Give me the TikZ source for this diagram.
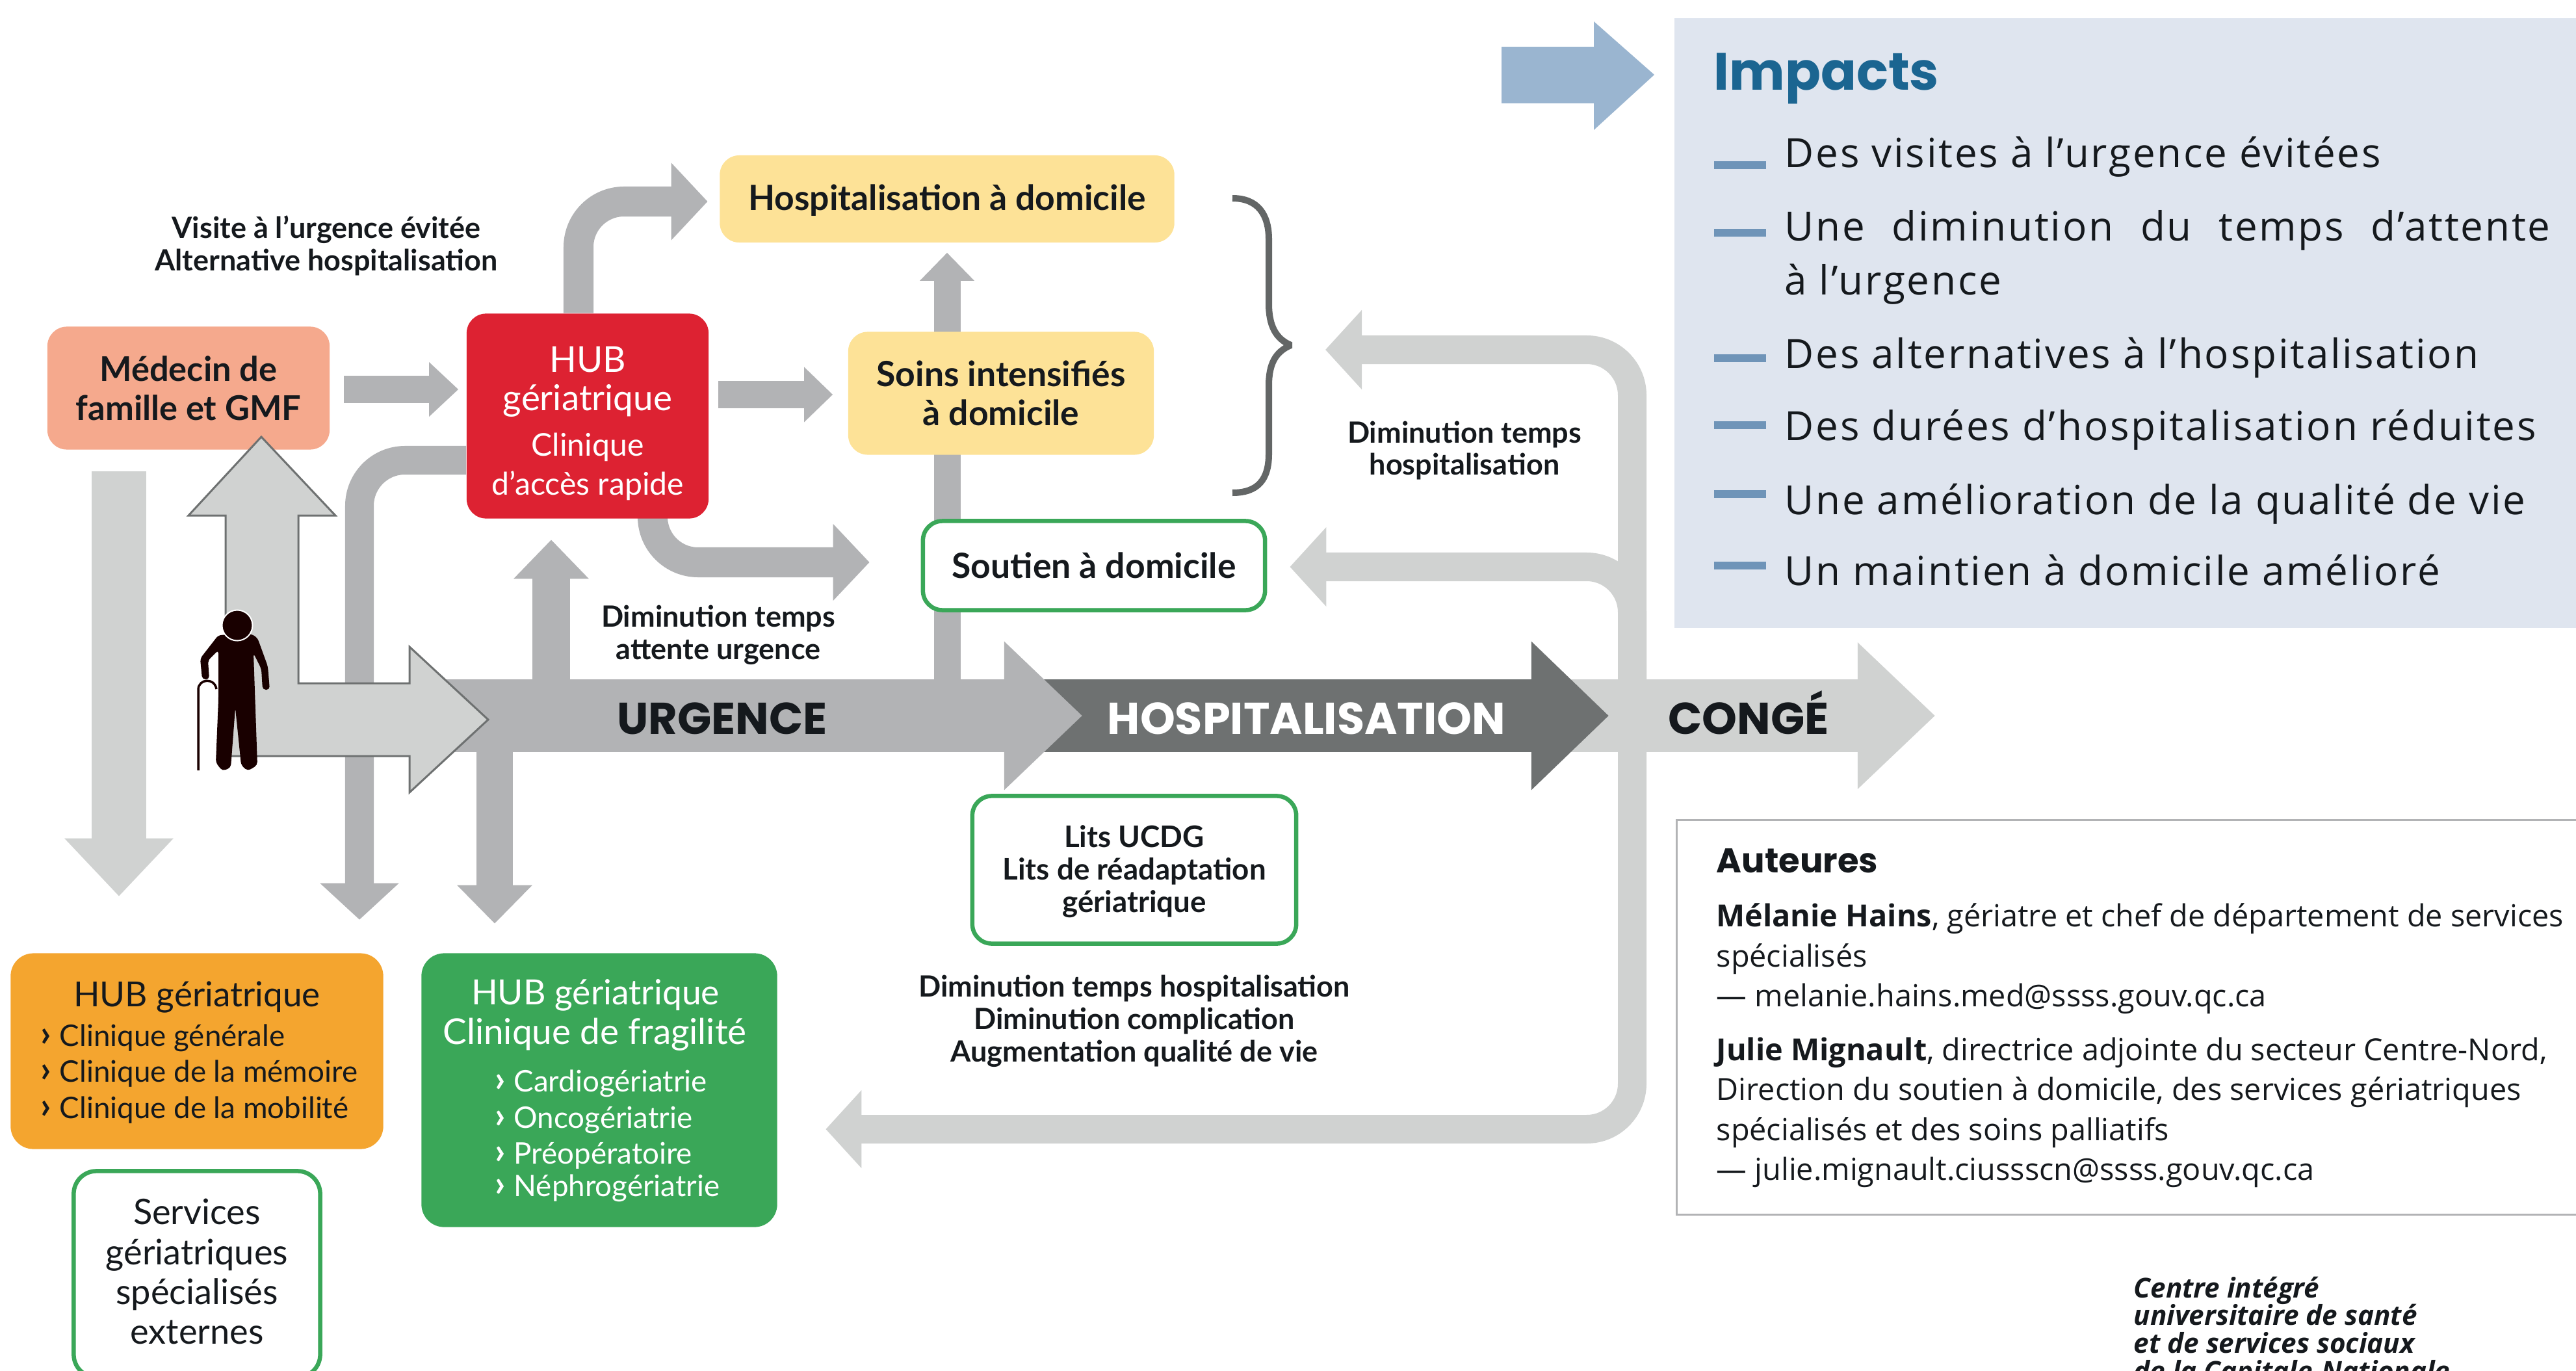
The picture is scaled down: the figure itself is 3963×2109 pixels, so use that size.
\documentclass[tikz,border=0pt]{standalone}
\usepackage{fontspec}
\setmainfont{Lato}
\newfontfamily\headfont{Poppins}
\newfontfamily\bodyfont{Open Sans}
\newfontfamily\trackedfont{Open Sans}[LetterSpace=4.5]
\usepackage{xcolor}
\usetikzlibrary{arrows.meta,backgrounds}

\definecolor{inkblack}{HTML}{15191D}
\definecolor{midgray}{HTML}{B2B3B5}
\definecolor{palegray}{HTML}{D0D2D1}
\definecolor{darkgray}{HTML}{6E7171}
\definecolor{salmon}{HTML}{F5A98D}
\definecolor{hubred}{HTML}{DD2232}
\definecolor{softyellow}{HTML}{FDE297}
\definecolor{hubgreen}{HTML}{3AA758}
\definecolor{huborange}{HTML}{F4A52F}
\definecolor{impactbg}{HTML}{DFE5EF}
\definecolor{impactblue}{HTML}{1B6591}
\definecolor{dashblue}{HTML}{6F94B8}
\definecolor{skyarrow}{HTML}{9AB5D0}

\newcommand{\smallhub}{\fontsize{13.7}{14.2}\selectfont}
\newcommand{\chevron}{\makebox[0.29cm][l]{\textbf{\fontsize{16}{15}\selectfont ›}}}

\tikzset{
    every node/.style={inner sep=0pt,text=inkblack},
    flow/.style n args={4}{draw=#1,line width=#2,-{Triangle[length=#3,width=#4]},rounded corners=0.7cm},
    carebox/.style={rounded corners=0.3cm,align=center,font=\fontsize{15.2}{17}\selectfont\bfseries},
    ringbox/.style={carebox,draw=hubgreen,line width=0.065cm,fill=white},
    note/.style={align=center,font=\fontsize{12.8}{14.2}\selectfont\bfseries},
    barlabel/.style={anchor=base,font=\fontsize{19.5}{22}\selectfont\headfont\bfseries},
    impact/.style={anchor=base west,font=\fontsize{17.6}{20}\selectfont\trackedfont},
    itemtext/.style={anchor=base west,font=\fontsize{13}{15}\selectfont},
}

\begin{document}
\begin{tikzpicture}[x=0.01cm,y=-0.01cm]
\useasboundingbox (0,0) rectangle (3963,2109);

% boxes
\node[carebox,fill=salmon,minimum width=4.34cm,minimum height=1.89cm,font=\fontsize{14.9}{17}\selectfont\bfseries] (med) at (290,597) {Médecin de\\famille et GMF};
\node[carebox,fill=hubred,text=white,minimum width=3.72cm,minimum height=3.15cm,font=\fontsize{15.6}{17}\selectfont] (hub) at (904,640)
    {\rule{0pt}{0.62cm}HUB\\gériatrique\\[0.1cm]\smallhub Clinique\\\smallhub d’accès rapide};
\node[carebox,fill=softyellow,minimum width=6.99cm,minimum height=1.34cm] (hosp) at (1457,306) {\rule{0pt}{0.44cm}Hospitalisation à domicile};
\node[carebox,fill=softyellow,minimum width=4.70cm,minimum height=1.89cm] (soins) at (1540,605) {Soins intensifiés\\à domicile};
\node[ringbox,minimum width=5.26cm,minimum height=1.37cm] (soutien) at (1683,870) {Soutien à domicile};
\node[ringbox,minimum width=4.98cm,minimum height=2.27cm,font=\fontsize{13}{14.2}\selectfont\bfseries] (lits) at (1745,1338) {\rule{0pt}{0.40cm}Lits UCDG\\Lits de réadaptation\\gériatrique};
\node[carebox,fill=huborange,minimum width=5.73cm,minimum height=3.01cm,rounded corners=0.35cm] (orangehub) at (303,1617) {};
\node[carebox,fill=hubgreen,minimum width=5.47cm,minimum height=4.21cm,rounded corners=0.35cm] (greenhub) at (922,1677) {};
\node[ringbox,minimum width=3.79cm,minimum height=3.17cm,rounded corners=0.35cm,font=\fontsize{15.4}{17.4}\selectfont] (services) at (303,1960) {Services\\gériatriques\\spécialisés\\externes\rule[-0.08cm]{0pt}{0pt}};

% texts of the two hubs
\node[anchor=base,font=\fontsize{15.1}{16}\selectfont] (orangetitle) at (303,1548) {HUB gériatrique};
\foreach \lbl/\yy [count=\i] in {Clinique générale/1609,Clinique de la mémoire/1664,Clinique de la mobilité/1720}{
    \node[itemtext] (orangeitem\i) at (62,\yy) {\chevron\lbl};
}
\node[anchor=base,align=center,text=white,font=\fontsize{15.2}{17.4}\selectfont] (greentitle) at (916,1545) {HUB gériatrique};
\node[anchor=base,align=center,text=white,font=\fontsize{15.6}{17.4}\selectfont] (greensub) at (915,1606) {Clinique de fragilité};
\foreach \lbl/\yy [count=\i] in {Cardiogériatrie/1679,Oncogériatrie/1735,Préopératoire/1790,Néphrogériatrie/1840}{
    \node[itemtext,text=white] (greenitem\i) at (761,\yy) {\chevron\lbl};
}

% notes
\node[note] (noteavoid) at (502,378) {Visite à l’urgence évitée\\Alternative hospitalisation};
\node[note] (noteurg) at (1105,977) {Diminution temps\\attente urgence};
\node[note] (notehosp) at (2253,693) {Diminution temps\\hospitalisation};
\node[note] (notelits) at (1745,1571) {Diminution temps hospitalisation\\Diminution complication\\Augmentation qualité de vie};

% the main line
\coordinate (urgtail) at (680,1101);
\coordinate (urgtip) at (1665,1101);
\coordinate (hosptail) at (1600,1101);
\coordinate (hosptip) at (2475,1101);
\coordinate (congetail) at (2390,1101);
\coordinate (congetip) at (2977,1101);
\coordinate (bracetip) at (1990,531);

\node[barlabel] (urgence) at (1111,1129) {URGENCE};
\node[barlabel,text=white] (hospit) at (2010,1129) {HOSPITALISATION};
\node[barlabel] (conge) at (2690,1129) {CONGÉ};

\begin{scope}[on background layer]
    \draw[flow={palegray}{0.83cm}{0.89cm}{1.62cm}] ([shift={(-107,33)}]med.south) -- ([shift={(-120,-87)}]orangehub.north);
    \draw[flow={midgray}{0.44cm}{0.56cm}{1.18cm}] ([shift={(0,68)}]hub.west) -| ([shift={(250,-51)}]orangehub.north);
    \draw[flow={midgray}{0.56cm}{0.59cm}{1.12cm}] ([shift={(81,0)}]urgtail) -- ([shift={(-161,-45)}]greenhub.north);
    \draw[flow={midgray}{0.57cm}{0.60cm}{1.12cm}] ([shift={(168,0)}]urgtail) -- ([shift={(-56,32)}]hub.south);
    \draw[flow={midgray}{0.41cm}{0.45cm}{0.81cm}] ([shift={(21,2)}]med.east) -- ([shift={(-12,-41)}]hub.west);
    \draw[flow={midgray}{0.41cm}{0.44cm}{0.82cm}] ([shift={(14,-33)}]hub.east) -- ([shift={(-23,2)}]soins.west);
    \draw[flow={midgray}{0.46cm}{0.56cm}{1.16cm}] ([shift={(-14,0)}]hub.north) |- ([shift={(-18,4)}]hosp.west);
    \draw[flow={midgray}{0.46cm}{0.56cm}{1.15cm}] ([shift={(100,0)}]hub.south) |- ([shift={(-79,-5)}]soutien.west);
    \draw[flow={midgray}{0.41cm}{0.43cm}{0.81cm}] ([shift={(777,0)}]urgtail) -- ([shift={(0,15)}]hosp.south);
    \draw[flow={palegray}{1.12cm}{1.19cm}{2.18cm},rounded corners=0pt] (congetail) -- (congetip);
    \draw[flow={palegray}{0.44cm}{0.56cm}{1.19cm}] ([shift={(121,0)}]congetail) |- ([shift={(49,7)}]bracetip);
    \draw[flow={palegray}{0.44cm}{0.56cm}{1.19cm}] ([shift={(121,0)}]congetail) |- ([shift={(35,2)}]soutien.east);
    \draw[flow={palegray}{0.44cm}{0.55cm}{1.17cm}] ([shift={(121,0)}]congetail) |- ([shift={(74,60)}]greenhub.east);
    \draw[flow={darkgray}{1.12cm}{1.19cm}{2.21cm},rounded corners=0pt] (hosptail) -- (hosptip);
    \draw[flow={midgray}{1.12cm}{1.20cm}{2.21cm},rounded corners=0pt] (urgtail) -- (urgtip);
\end{scope}

% patient arrow and person
\filldraw[fill=palegray,draw=darkgray,line width=0.03cm]
    (402,672) -- (516,793) -- (459,793) -- (459,1051) -- (630,1051) -- (630,995) -- (751,1107)
    -- (630,1219) -- (630,1163) -- (347,1163) -- (347,793) -- (290,793) -- cycle;
\fill[black!90!red,rounded corners=0.05cm] (336,977) -- (308,1013) -- (311,1045) -- (322,1045) -- (320,1016) -- (336,1000) -- (336,1077)
    -- (332,1173) -- (342,1186) -- (355,1181) -- (362,1089) -- (371,1177) -- (381,1186) -- (396,1177) -- (390,1005)
    -- (402,1029) -- (404,1061) -- (415,1061) -- (412,1025) -- (396,981) -- (386,975) -- cycle;
\filldraw[fill=black!90!red,draw=white,line width=0.02cm] (365,962) circle (0.235cm);
\draw[black!90!red,line width=0.035cm] (305,1185) -- (305,1060) .. controls (306,1044) and (330,1042) .. (333,1060);

% brace
\draw[draw=darkgray!90!black,line width=0.1cm,line join=bevel] (1896,305) .. controls (1935,305) and (1952,330) .. (1952,368) -- (1952,467)
    .. controls (1952,500) and (1962,521) .. (1986,531) .. controls (1962,541) and (1952,560) .. (1952,593) -- (1952,698)
    .. controls (1952,738) and (1935,758) .. (1896,758);

% impacts
\draw[draw=none,fill=skyarrow] (2310,72) -- (2452,72) -- (2452,33) -- (2545,115) -- (2452,200) -- (2452,159) -- (2310,159) -- cycle;
\node[fill=impactbg,anchor=north west,minimum width=13.88cm,minimum height=9.38cm] (impactbox) at (2575,27) {};
\node[anchor=base west,text=impactblue,font=\fontsize{23}{24}\selectfont\headfont\bfseries] (impacttitle) at (2636,139) {Impacts};
\foreach \lbl/\dy/\by [count=\i] in {
    {Des visites à l’urgence évitées}/254/258,
    {\makebox[11.77cm][s]{Une diminution du temps d’attente}}/358/370,
    {Des alternatives à l’hospitalisation}/551/566,
    {Des durées d’hospitalisation réduites}/654/677,
    {Une amélioration de la qualité de vie}/760/791,
    {Un maintien à domicile amélioré}/870/900}{
    \fill[dashblue] (2637,\dy-6) rectangle (2717,\dy+6);
    \node[impact] (impactline\i) at (2745,\by) {\lbl};
}
\node[impact] (impactwrap) at (2745,453) {à l’urgence};

% authors
\node[draw=midgray,line width=0.03cm,anchor=north west,minimum width=14.2cm,minimum height=6.07cm] (authorbox) at (2578,1260) {};
\node[anchor=base west,font=\fontsize{15}{17}\selectfont\headfont\bfseries] (authortitle) at (2640,1342) {Auteures};
\node[anchor=north west,align=left,font=\fontsize{13.3}{17.5}\selectfont\bodyfont] (authortext) at (2640,1389) {\textbf{Mélanie Hains}, gériatre et chef de département de services\\spécialisés\\— melanie.hains.med@ssss.gouv.qc.ca\\[0.21cm]
\textbf{Julie Mignault}, directrice adjointe du secteur Centre-Nord,\\Direction du soutien à domicile, des services gériatriques\\spécialisés et des soins palliatifs\\— julie.mignault.ciussscn@ssss.gouv.qc.ca};

% institution
\node[anchor=north west,align=left,font=\fontsize{12}{12.2}\selectfont\bodyfont\bfseries\itshape] (ciusss) at (3282,1963) {Centre intégré\\universitaire de santé\\et de services sociaux\\de la Capitale-Nationale};
\end{tikzpicture}
\end{document}
